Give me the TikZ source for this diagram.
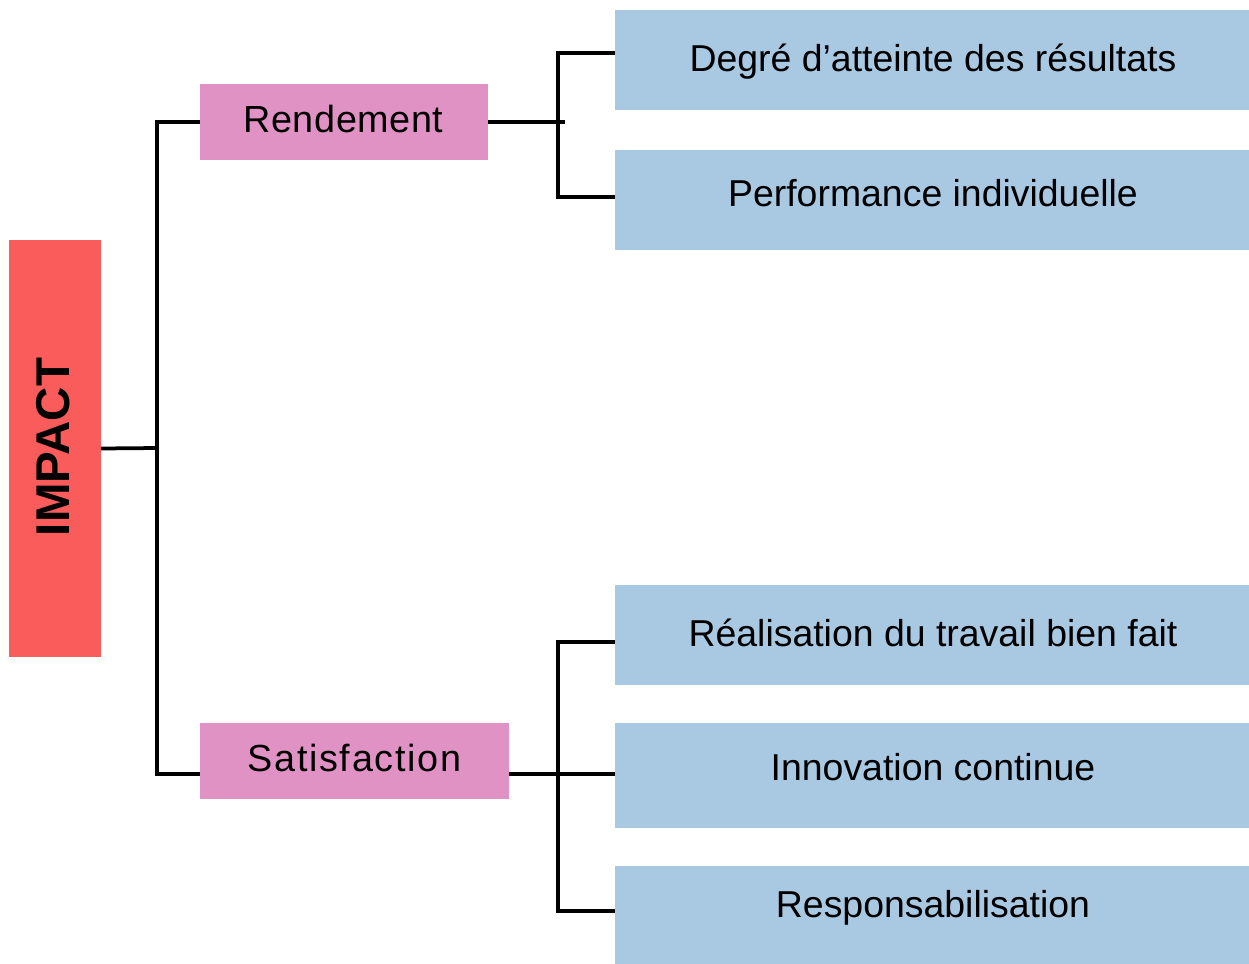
\documentclass[tikz,border=0pt]{standalone}
\usepackage{fontspec}
\setmainfont{Liberation Sans}
\usetikzlibrary{calc}
\definecolor{impred}{HTML}{F95C5A}
\definecolor{midpink}{HTML}{E192C4}
\definecolor{leafblue}{HTML}{A9C8E2}
\tikzset{
  boxbase/.style={inner sep=0pt, outer sep=0pt, text=black},
  rootbox/.style={boxbase, fill=impred, minimum width=1.84cm, minimum height=8.34cm},
  midbox/.style={boxbase, fill=midpink, minimum height=1.52cm},
  leafbox/.style={boxbase, fill=leafblue, minimum width=12.68cm},
  leaftext/.style={boxbase, anchor=base, font=\fontsize{21.3}{25}\selectfont},
  midtext/.style={boxbase, anchor=base, font=\fontsize{21.5}{25}\selectfont},
  conn/.style={draw=black, line width=0.075cm, line join=miter}
}
\begin{document}
\begin{tikzpicture}[x=0.02cm, y=-0.02cm]
\useasboundingbox (0,0) rectangle (1249,964);
\fill[white] (0,0) rectangle (1249,964);

\node[rootbox] (impact) at (55,448.5) {};
\node[boxbase, anchor=base, rotate=90, font=\fontsize{27}{31}\selectfont\bfseries] (impacttxt) at (69.5,447) {IMPACT};

\node[midbox, minimum width=5.76cm] (rend) at (344,122) {};
\node[midtext] (rendt) at (343.5,132.7) {\addfontfeature{LetterSpace=1.5}Rendement};
\node[midbox, minimum width=6.18cm] (sat) at (354.5,760.5) {};
\node[midtext] (satt) at (354.5,771.7) {\addfontfeature{LetterSpace=4.5}Satisfaction};

\node[leafbox, minimum height=2.0cm] (deg) at (932,60) {};
\node[leaftext] (degt) at (933,71) {Degré d’atteinte des résultats};
\node[leafbox, minimum height=2.0cm] (perf) at (932,200) {};
\node[leaftext] (perft) at (933,206) {Performance individuelle};
\node[leafbox, minimum height=2.0cm] (real) at (932,635) {};
\node[leaftext] (realt) at (933,646) {Réalisation du travail bien fait};
\node[leafbox, minimum height=2.1cm] (inno) at (932,775.5) {};
\node[leaftext] (innot) at (933,780) {Innovation continue};
\node[leafbox, minimum height=1.96cm] (resp) at (932,915) {};
\node[leaftext] (respt) at (933,917.3) {Responsabilisation};

\coordinate (trunk) at (157,448);
\coordinate (rfork) at (558,122);
\coordinate (sfork) at (558,774);

\draw[conn] (impact.east) -- (trunk);
\draw[conn] (rend.west) -| (trunk);
\draw[conn] (sat.west |- sfork) -| (trunk);

\draw[conn] (rend.east) -- ($(rfork)+(7,0)$);
\draw[conn] (deg.west |- 0,53) -| (rfork) |- (perf.west |- 0,197);

\draw[conn] (sat.east |- sfork) -- (inno.west |- sfork);
\draw[conn] (real.west |- 0,642) -| (sfork) |- (resp.west |- 0,911);
\end{tikzpicture}
\end{document}
